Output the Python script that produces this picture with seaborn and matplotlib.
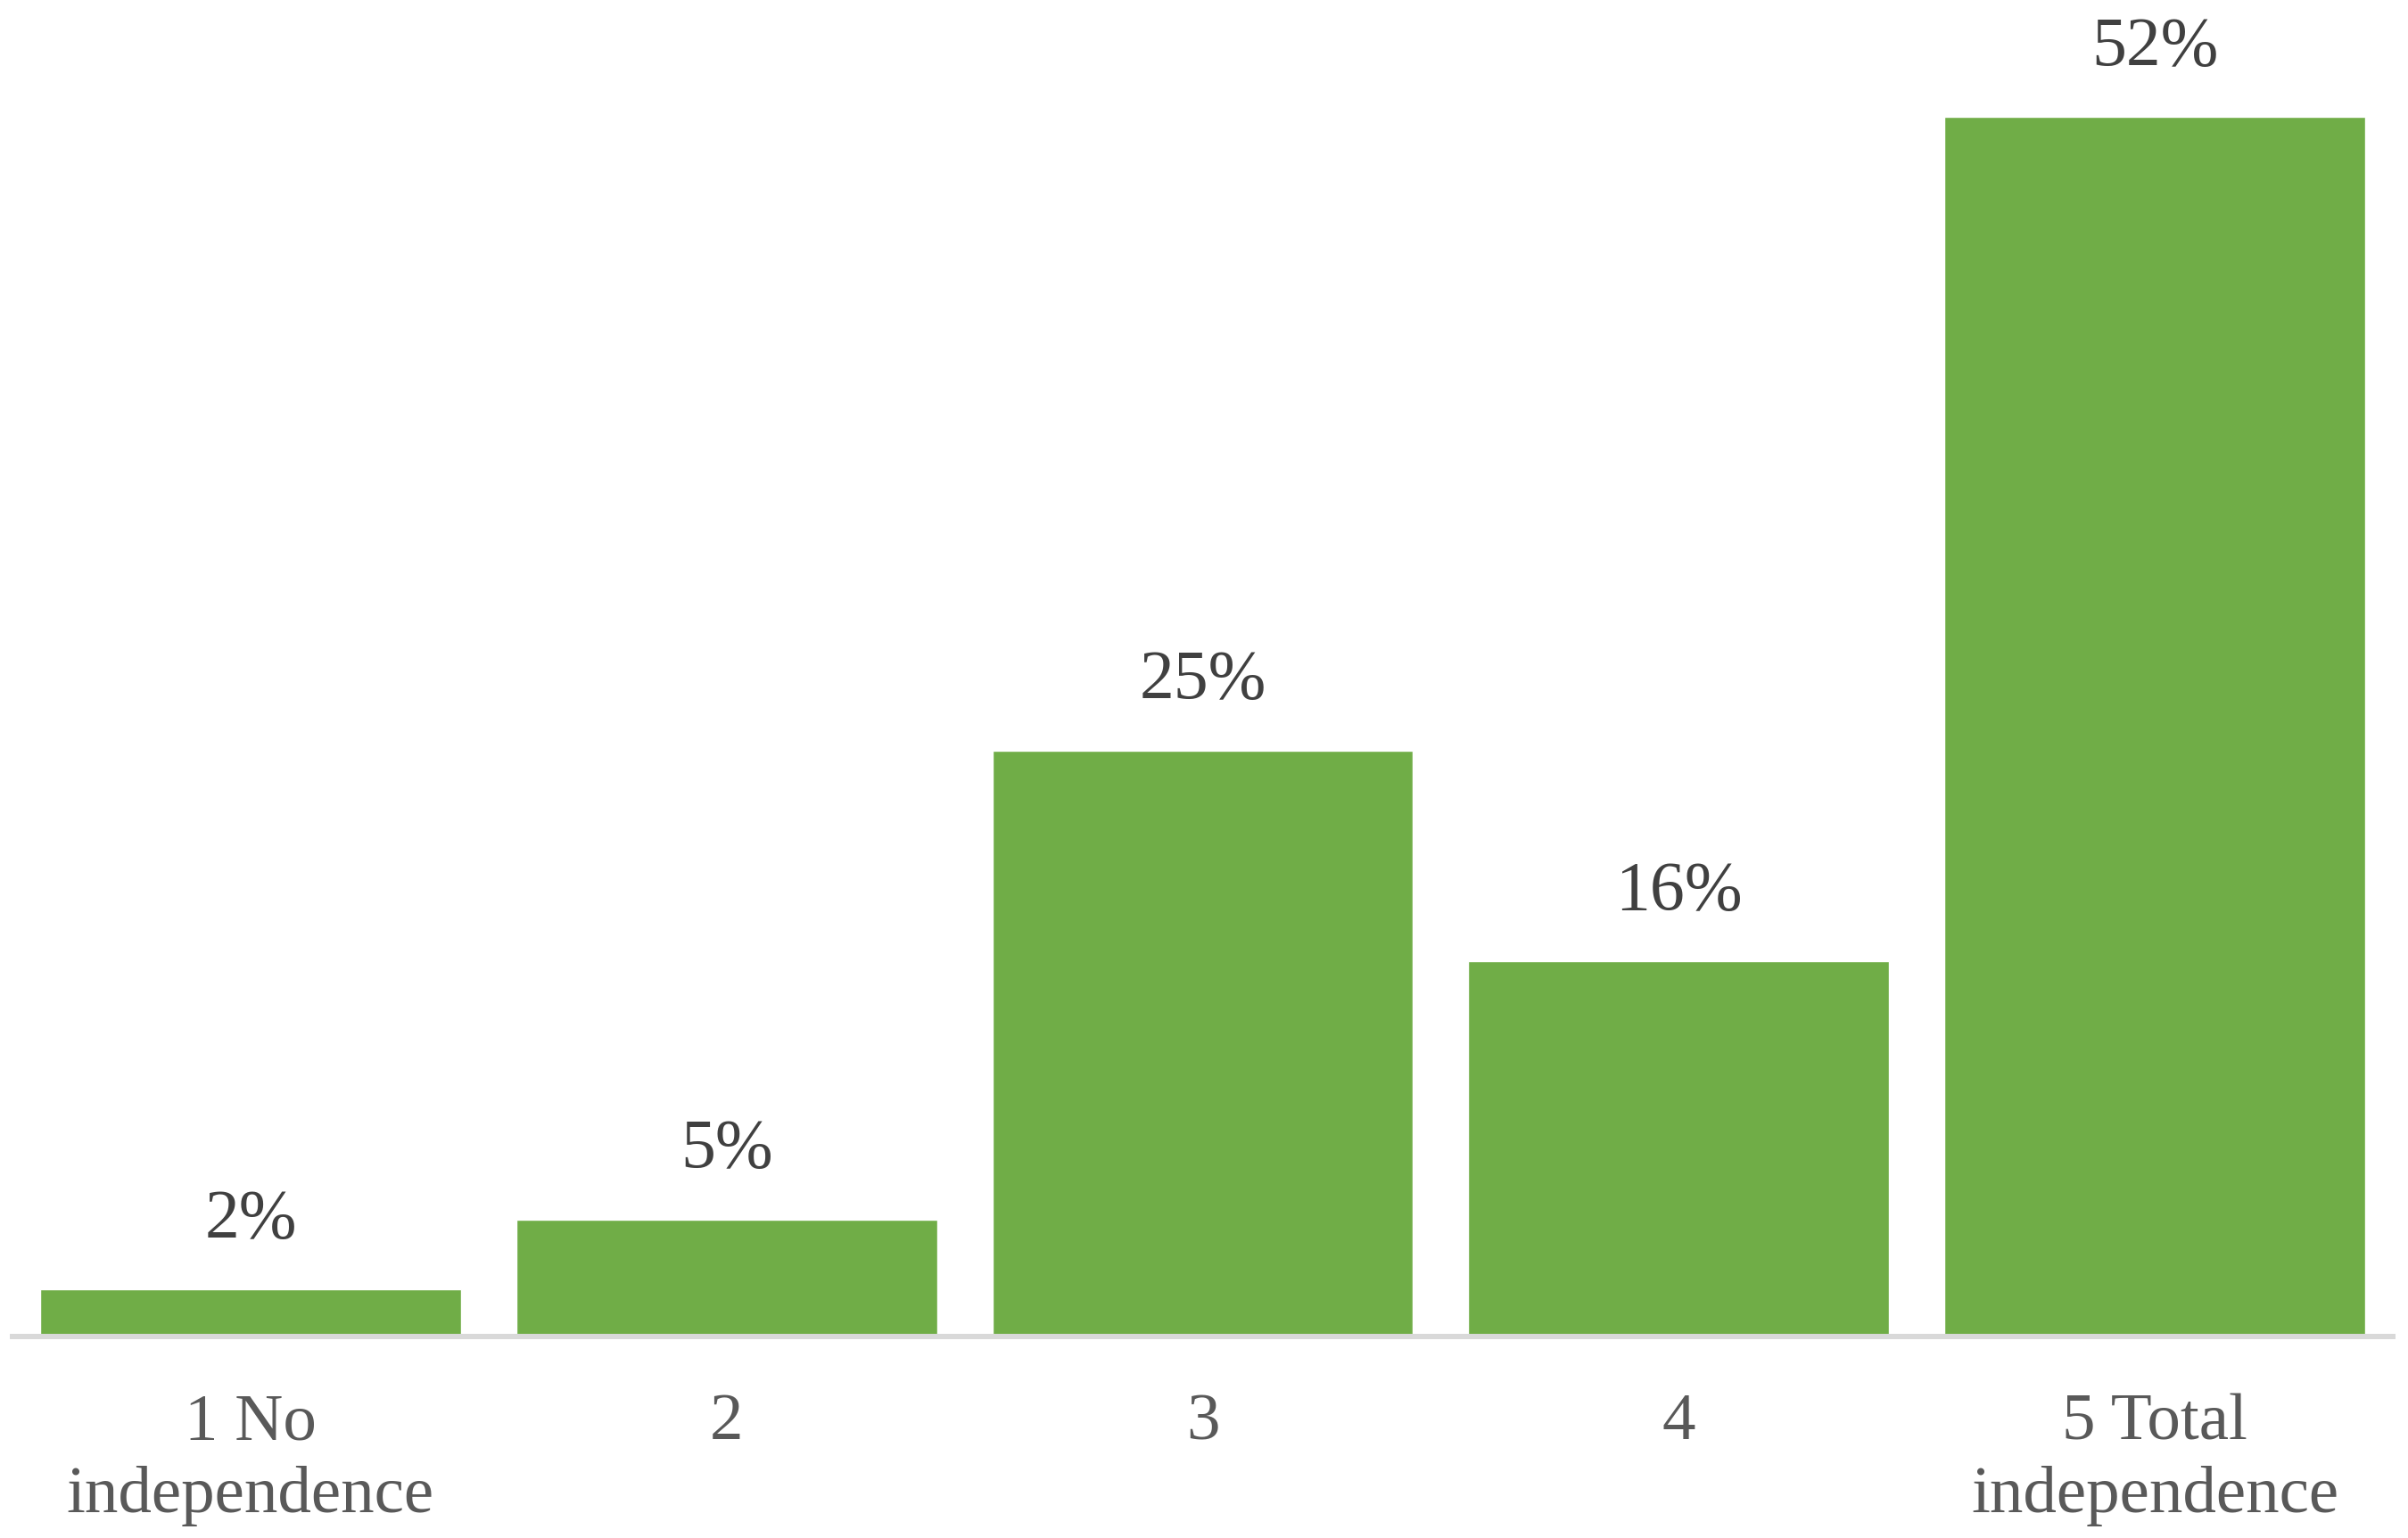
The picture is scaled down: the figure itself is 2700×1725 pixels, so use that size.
import matplotlib
matplotlib.use("Agg")
import matplotlib.pyplot as plt
import seaborn as sns
import pandas as pd

categories = ["1 No\nindependence", "2", "3", "4", "5 Total\nindependence"]
values = [2, 5, 25, 16, 52]
labels = ["2%", "5%", "25%", "16%", "52%"]

sns.set_style("white")
plt.rcParams['font.family'] = ['Liberation Serif', 'DejaVu Serif']

df = pd.DataFrame({"cat": categories, "val": values})

fig = plt.figure(figsize=(27, 17.25), dpi=100)
W, H = 2700, 1725
left, right = 14, 2683
base = 1499
ax = fig.add_axes([left / W, (H - base) / H, (right - left) / W, base / H])

sns.barplot(data=df, x="cat", y="val", color="#70AD47", saturation=1,
            width=0.884, ax=ax)

ax.set_ylim(0, base / 26.3)
ax.set_xlim(-0.5, 4.5)
ax.set_xlabel("")
ax.set_ylabel("")
ax.set_yticks([])
for s in ["top", "right", "left"]:
    ax.spines[s].set_visible(False)
ax.spines["bottom"].set_color("#D9D9D9")
ax.spines["bottom"].set_linewidth(4.3)
ax.tick_params(axis="x", length=0, pad=46, labelsize=54, labelcolor="#595959")
for t in ax.get_xticklabels():
    t.set_linespacing(1.27)

for p, lab in zip(ax.patches, labels):
    x = p.get_x() + p.get_width() / 2
    y = p.get_height()
    ax.annotate(lab, (x, y), xytext=(0, 42), textcoords="offset points",
                ha="center", va="baseline", fontsize=56, color="#404040")

fig.savefig("out.png", dpi=100, facecolor="white")
